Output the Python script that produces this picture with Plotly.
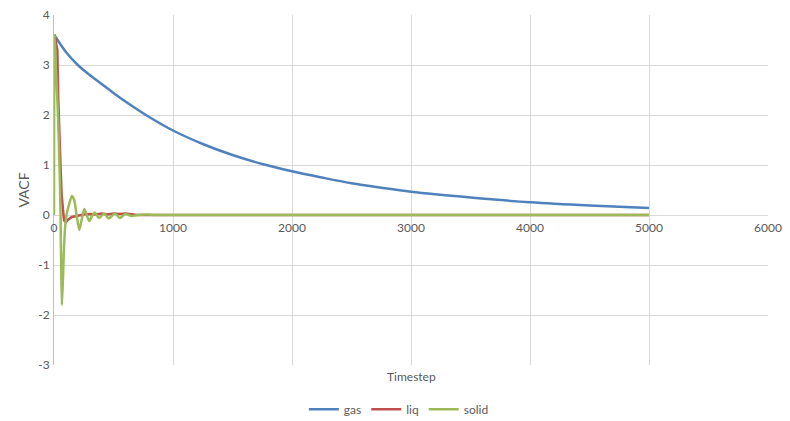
import plotly.graph_objects as go

# gas
gas_t = [0, 100, 200, 300, 400, 500, 600, 800, 1000, 1250, 1500, 1750, 2000,
         2250, 2500, 2750, 3000, 3500, 4000, 4500, 5000]
gas_v = [3.61, 3.26, 3.00, 2.80, 2.62, 2.44, 2.27, 1.96, 1.69, 1.42, 1.20, 1.02,
         0.875, 0.75, 0.635, 0.545, 0.465, 0.35, 0.255, 0.19, 0.14]

# liq
liq_t = [0, 10, 20, 28, 36, 44, 53, 64, 75, 84, 98, 120, 150, 200, 250, 300,
         350, 400, 450, 500, 550, 600, 650, 700, 800, 5000]
liq_v = [3.6, 3.55, 3.4, 3.3, 2.3, 1.5, 1.1, 0.4, 0.1, -0.1, -0.15, -0.09, -0.04,
         -0.01, 0.01, 0.02, 0.01, 0.03, 0.01, 0.03, 0.02, 0.03, 0.02, 0.0, 0.0, 0.0]

# solid
solid_t = [0, 5, 15, 30, 40, 48, 55, 60, 66, 75, 85, 95, 105, 125, 150, 170, 190,
           212, 232, 255, 275, 296, 320, 343, 377, 421, 460, 511, 553, 600, 650,
           700, 780, 850, 5000]
solid_v = [0.0, 3.6, 3.0, 2.2, 1.5, 0.8, 0.0, -1.0, -1.8, -1.3, -0.6, -0.2, 0.0,
           0.2, 0.38, 0.3, 0.0, -0.3, -0.1, 0.12, 0.0, -0.12, -0.02, 0.05, -0.06,
           0.03, -0.07, 0.03, -0.06, 0.02, -0.02, 0.0, 0.01, 0.0, 0.0]

y_ticks = [-3, -2, -1, 0, 1, 2, 3, 4]
y_labels = ["-3", "-2", "-1", "0", "1", "2", "3", "4"]

grey = "#595959"
grid = "#d9d9d9"

fig = go.Figure()
fig.add_trace(go.Scatter(x=gas_t, y=gas_v, mode="lines", name="gas",
                         line=dict(color="#4f81bd", width=2.5, shape="spline")))
fig.add_trace(go.Scatter(x=liq_t, y=liq_v, mode="lines", name="liq",
                         line=dict(color="#c0504d", width=2.5)))
fig.add_trace(go.Scatter(x=solid_t, y=solid_v, mode="lines", name="solid",
                         line=dict(color="#9bbb59", width=2.5, shape="spline", smoothing=0.6)))

# the page body adds an 8px offset, margins account for it
fig.update_layout(
    width=790, height=421,
    margin=dict(l=46, r=30, t=7, b=63),
    plot_bgcolor="white", paper_bgcolor="white",
    font=dict(family="Lato", size=12, color=grey),
    xaxis=dict(range=[0, 6000], dtick=1000, showgrid=True, gridcolor=grid,
               gridwidth=1, zeroline=False, showline=False, automargin=False,
               anchor="free", position=3 / 7, ticks="", ticklabelstandoff=4),
    yaxis=dict(range=[-3, 4], tickvals=y_ticks, ticktext=y_labels, showgrid=True,
               gridcolor=grid, zeroline=False, showline=True, linecolor="#bfbfbf",
               ticks="", ticklabelstandoff=1, automargin=False,
               ticklabeloverflow="allow",
               title=dict(text="VACF", standoff=5)),
    legend=dict(orientation="h", x=0.483, xanchor="center", y=-0.123,
                yanchor="middle", font=dict(size=12, color=grey)),
    annotations=[dict(text="Timestep", x=0.5, y=-0.0325, xref="paper", yref="paper",
                      xanchor="center", yanchor="middle", showarrow=False,
                      font=dict(size=12, color=grey))],
)

fig.write_html("out.html")
